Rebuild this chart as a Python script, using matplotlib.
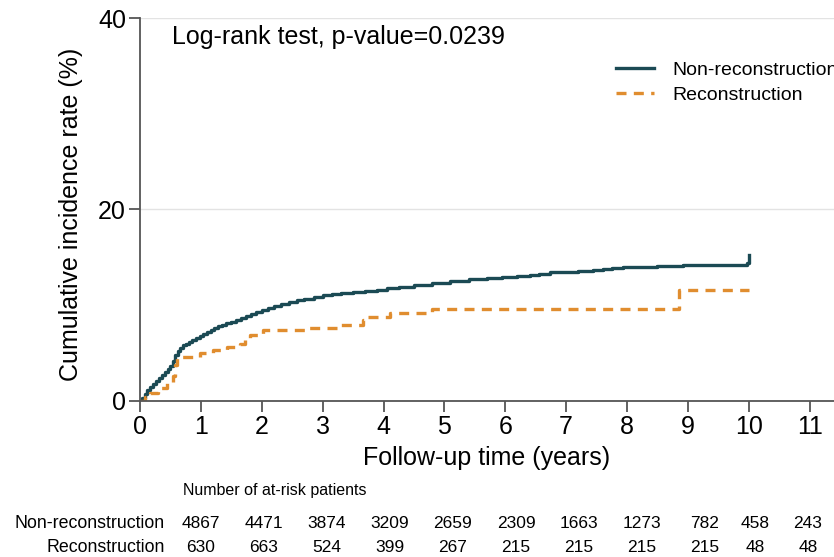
import matplotlib
matplotlib.use('Agg')
import matplotlib.pyplot as plt

plt.rcParams['font.family'] = ['Liberation Sans', 'DejaVu Sans']

# step curves (years, cumulative incidence %)
non_t = [0, 0.04, 0.08, 0.12, 0.16, 0.21, 0.26, 0.31, 0.36, 0.41, 0.46, 0.5, 0.54, 0.58, 0.62, 0.66, 0.7,
         0.75, 0.8, 0.86, 0.92, 0.98, 1.04, 1.1, 1.16, 1.22, 1.28, 1.35, 1.42, 1.5, 1.58, 1.66, 1.74, 1.82,
         1.9, 2.0, 2.1, 2.2, 2.32, 2.45, 2.58, 2.7, 2.85, 3.0, 3.15, 3.3, 3.5, 3.7, 3.9, 4.05, 4.25, 4.5,
         4.8, 5.1, 5.4, 5.7, 5.95, 6.2, 6.4, 6.55, 6.73, 7.2, 7.44, 7.6, 7.75, 7.93, 8.5, 8.92, 9.97, 10.0]
non_y = [0, 0.3, 0.7, 1.1, 1.5, 1.8, 2.1, 2.4, 2.7, 3.0, 3.3, 3.7, 4.2, 4.8, 5.2, 5.5, 5.8,
         6.0, 6.2, 6.4, 6.6, 6.8, 7.0, 7.2, 7.4, 7.6, 7.8, 7.9, 8.1, 8.3, 8.5, 8.7, 8.9, 9.1,
         9.3, 9.5, 9.7, 9.9, 10.1, 10.3, 10.5, 10.7, 10.9, 11.1, 11.2, 11.3, 11.4, 11.5, 11.6, 11.8, 11.9, 12.1,
         12.3, 12.5, 12.7, 12.8, 13.0, 13.1, 13.2, 13.3, 13.5, 13.6, 13.7, 13.8, 13.9, 14.0, 14.1, 14.2, 14.4, 15.3]
rec_t = [0, 0.08, 0.16, 0.3, 0.44, 0.54, 0.58, 0.61, 0.98, 1.2, 1.43, 1.64, 1.72, 1.8, 2.02, 2.74, 3.28,
         3.66, 3.72, 4.1, 4.8, 8.86, 10.0]
rec_y = [0, 0.4, 0.8, 1.4, 1.9, 2.6, 3.8, 4.6, 5.0, 5.3, 5.6, 6.0, 6.4, 6.9, 7.4, 7.6, 7.9,
         8.5, 8.8, 9.2, 9.6, 11.6, 11.6]

risk_labels = ['Non-reconstruction', 'Reconstruction']
risk_non = [4867, 4471, 3874, 3209, 2659, 2309, 1663, 1273, 782, 458, 243]
risk_rec = [630, 663, 524, 399, 267, 215, 215, 215, 215, 48, 48]

W, H = 834, 557
fig = plt.figure(figsize=(W / 100, H / 100), dpi=100)
ax = fig.add_axes([140 / W, 1 - 401 / H, 694 / W, 383 / H])

dark = '#1b4a54'
orange = '#e08d2f'
ax.step(non_t, non_y, where='post', color=dark, lw=2.4, label='Non-reconstruction')
ax.step(rec_t, rec_y, where='post', color=orange, lw=2.4, ls=(0, (3.0, 2.2)), label='Reconstruction')

ax.set_xlim(0, 11.4)
ax.set_ylim(0, 40)
ax.set_xticks(range(0, 12))
ax.set_yticks([0, 20, 40])
ax.yaxis.grid(True, color='#e3e3e3', lw=1)
ax.set_axisbelow(True)
for s in ['top', 'right']:
    ax.spines[s].set_visible(False)
for s in ['left', 'bottom']:
    ax.spines[s].set_color('#555555')
    ax.spines[s].set_linewidth(1.3)
ax.tick_params(axis='both', labelsize=18, length=8, width=1.3, color='#555555', pad=2)

ax.set_xlabel('Follow-up time (years)', fontsize=18, labelpad=5)
ax.set_ylabel('Cumulative incidence rate (%)', fontsize=18)
ax.yaxis.set_label_coords(-0.082, 0.486)

ax.text(0.53, 38.0, 'Log-rank test, p-value=0.0239', fontsize=18, va='center', ha='left')

leg = ax.legend(loc='upper left', bbox_to_anchor=(598 / W, 1 - 44 / H), bbox_transform=fig.transFigure,
                frameon=False, fontsize=14, handlelength=2.0, handletextpad=0.9, labelspacing=0.35)

# at-risk table
fig.text(183 / W, 1 - 490 / H, 'Number of at-risk patients', fontsize=11.5, va='center', ha='left')
col_x = [201 + 63 * i for i in range(9)] + [755, 808]
rows = [risk_non, risk_rec]
row_y = [523, 547]
for lab, vals, yy in zip(risk_labels, rows, row_y):
    fig.text(165 / W, 1 - yy / H, lab, fontsize=12.8, va='center', ha='right')
    for x, v in zip(col_x, vals):
        fig.text(x / W, 1 - yy / H, str(v), fontsize=12.5, va='center', ha='center')

fig.savefig('out.png', dpi=100)
